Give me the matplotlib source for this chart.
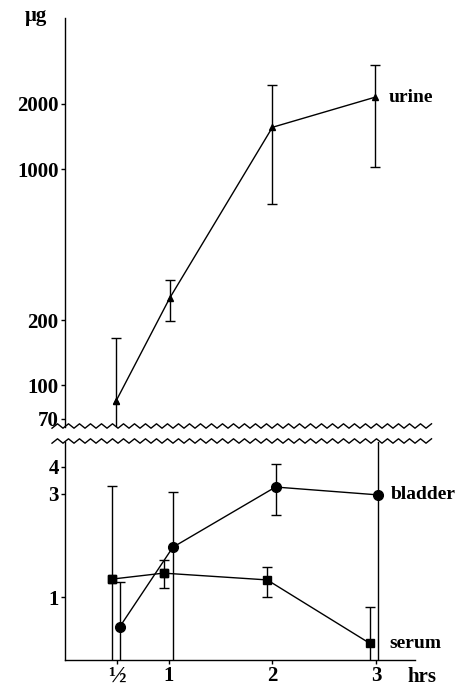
import numpy as np
import matplotlib.pyplot as plt
from matplotlib.ticker import NullLocator

plt.rcParams['font.family'] = ['Liberation Serif', 'DejaVu Serif']
plt.rcParams['font.weight'] = 'bold'

# urine (upper panel), µg, log scale
urine_t = [0.49, 1.01, 2.0, 2.99]
urine_y = [84, 253, 1560, 2150]
urine_lo = [10, 198, 690, 1020]     # lower end of error bar (first one runs off the axis)
urine_hi = [165, 306, 2450, 3030]

# bladder (lower panel)
bladder_t = [0.53, 1.04, 2.03, 3.02]
bladder_y = [0.73, 1.70, 3.23, 2.97]
bladder_lo = [0.2, 0.2, 2.40, 0.2]
bladder_hi = [1.17, 3.06, 4.13, 20]

# serum (lower panel)
serum_t = [0.45, 0.95, 1.95, 2.94]
serum_y = [1.21, 1.29, 1.20, 0.61]
serum_lo = [0.2, 1.10, 1.0, 0.2]
serum_hi = [3.26, 1.48, 1.38, 0.90]

xticks = [0.5, 1, 2, 3]
xticklabels = ['½', '1', '2', '3']
top_ticks = [70, 100, 200, 1000, 2000]
bot_ticks = [1, 3, 4]

W, H = 460, 687
fig = plt.figure(figsize=(W/100, H/100), dpi=100)
ax1 = fig.add_axes([65/W, 1-427/H, 350/W, 409/H])
ax2 = fig.add_axes([65/W, 1-660/H, 350/W, 218/H])

def err(y, lo, hi):
    y = np.array(y); return [y-np.array(lo), np.array(hi)-y]

# urine
ax1.errorbar(urine_t, urine_y, yerr=err(urine_y, urine_lo, urine_hi), color='k', lw=1,
             elinewidth=1, capsize=3.5, capthick=1, marker='^', ms=5, mfc='k')
ax1.plot(urine_t[0], urine_y[0], marker='^', ms=5, mfc='white', mec='k', mew=0.8)
ax1.set_yscale('log')
ax1.set_ylim(64, 5000)
ax1.set_xlim(0, 3.375)
ax1.set_yticks(top_ticks)
ax1.set_yticklabels([str(v) for v in top_ticks])
ax1.yaxis.set_minor_locator(NullLocator())
ax1.set_xticks([])
for s in ['top', 'right', 'bottom']:
    ax1.spines[s].set_visible(False)
ax1.text(3.12, 2150, 'urine', fontsize=14, va='center', ha='left')

# bladder + serum
ax2.errorbar(bladder_t, bladder_y, yerr=err(bladder_y, bladder_lo, bladder_hi), color='k', lw=1,
             elinewidth=1, capsize=3.5, capthick=1, marker='o', ms=7)
ax2.errorbar(serum_t, serum_y, yerr=err(serum_y, serum_lo, serum_hi), color='k', lw=1,
             elinewidth=1, capsize=3.5, capthick=1, marker='s', ms=5.5)
ax2.plot(serum_t[:2], serum_y[:2], ls='none', marker='s', ms=5.5, mfc='0.55', mec='k')
ax2.set_yscale('log')
ax2.set_ylim(0.511, 5.22)
ax2.set_xlim(0, 3.375)
ax2.set_yticks(bot_ticks)
ax2.set_yticklabels([str(v) for v in bot_ticks])
ax2.yaxis.set_minor_locator(NullLocator())
ax2.set_xticks(xticks)
ax2.set_xticklabels(xticklabels)
for s in ['top', 'right']:
    ax2.spines[s].set_visible(False)
ax2.text(3.14, 2.97, 'bladder', fontsize=14, va='center', ha='left')
ax2.text(3.13, 0.61, 'serum', fontsize=14, va='center', ha='left')

for ax in (ax1, ax2):
    ax.tick_params(axis='both', direction='out', length=3, width=1, labelsize=15, pad=1.5)
    for s in ax.spines.values():
        s.set_linewidth(1)
ax2.tick_params(axis='x', labelsize=15, pad=1)
ax2.get_xticklabels()[0].set_fontsize(17)

# axis break zigzags
xs = np.arange(52, 434, 5.5)
for yc in (426, 441):
    ys = yc + np.where(np.arange(len(xs)) % 2 == 0, 2.2, -2.2)
    fig.add_artist(plt.Line2D(xs/W, 1-ys/H, color='k', lw=1, transform=fig.transFigure))

fig.text(36/W, 1-16/H, 'μg', fontsize=15, ha='center', va='center')
fig.text(422/W, 1-677/H, 'hrs', fontsize=15, ha='center', va='center')

plt.savefig('out.png', dpi=100)
